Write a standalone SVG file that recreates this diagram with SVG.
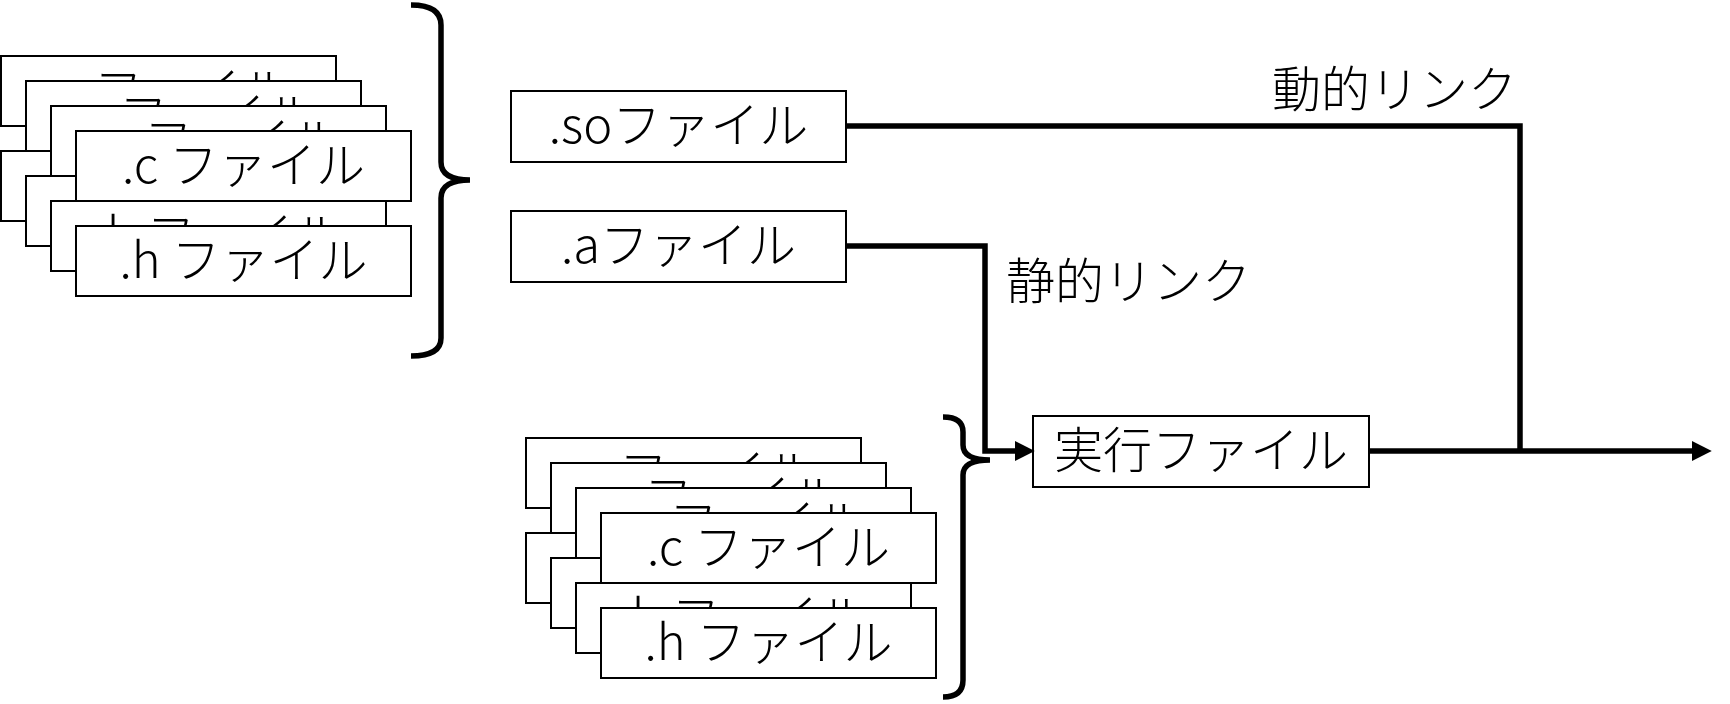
<svg xmlns="http://www.w3.org/2000/svg" width="1730" height="704" viewBox="0 0 1730 704">
<defs>
<style>
.box{fill:#fff;stroke:#000;stroke-width:2}
.t{font-family:"Noto Sans CJK JP","Noto Sans",sans-serif;font-size:49px;font-weight:300;fill:#000}
.c{text-anchor:middle}
.conn{fill:none;stroke:#000;stroke-width:5.5;stroke-linejoin:miter}
.br{fill:none;stroke:#000;stroke-width:5.5}
</style>
<marker id="arr" markerUnits="userSpaceOnUse" markerWidth="20" markerHeight="20" viewBox="0 0 18 18" refX="2" refY="9" orient="auto">
<path d="M0,0 L18,9 L0,18 z" fill="#000"/>
</marker>
<g id="cfile"><rect class="box" x="0" y="0" width="335" height="70"/><text class="t c" x="167.5" y="52">.c ファイル</text></g>
<g id="hfile"><rect class="box" x="0" y="0" width="335" height="70"/><text class="t c" x="167.5" y="52">.h ファイル</text></g>
</defs>
<rect width="1730" height="704" fill="#fff"/>

<g id="src-top">
<use href="#hfile" x="1" y="151"/>
<use href="#hfile" x="26" y="176"/>
<use href="#cfile" x="1" y="56"/>
<use href="#cfile" x="26" y="81"/>
<use href="#cfile" x="51" y="106"/>
<use href="#cfile" x="76" y="131"/>
<use href="#hfile" x="51" y="201"/>
<use href="#hfile" x="76" y="226"/>
</g>
<g id="brace-top">
<path class="br" d="M411,5 Q441,5 441,25 V162 Q441,180 470,180 Q441,180 441,198 V338 Q441,356 411,356"/>
</g>

<g id="src-bottom">
<use href="#hfile" x="526" y="533"/>
<use href="#hfile" x="551" y="558"/>
<use href="#cfile" x="526" y="438"/>
<use href="#cfile" x="551" y="463"/>
<use href="#cfile" x="576" y="488"/>
<use href="#cfile" x="601" y="513"/>
<use href="#hfile" x="576" y="583"/>
<use href="#hfile" x="601" y="608"/>
</g>
<g id="brace-bottom">
<path class="br" d="M943,417 Q963,417 963,432 V445 Q963,460 990,460 Q963,460 963,475 V680 Q963,697 943,697"/>
</g>

<g id="so">
<rect class="box" x="511" y="91" width="335" height="71"/>
<text class="t c" x="678.5" y="143">.soファイル</text>
</g>
<g id="a">
<rect class="box" x="511" y="211" width="335" height="71"/>
<text class="t c" x="678.5" y="263">.aファイル</text>
</g>
<g id="exe">
<rect class="box" x="1033" y="416" width="336" height="71"/>
<text class="t c" x="1201" y="468">実行ファイル</text>
</g>

<g id="connectors">
<path class="conn" d="M846,126 H1520 V451"/>
<path class="conn" d="M846,246 H985 V451 H1017" marker-end="url(#arr)"/>
<path class="conn" d="M1369,451 H1694" marker-end="url(#arr)"/>
</g>
<g id="labels">
<text class="t" x="1272" y="107">動的リンク</text>
<text class="t" x="1006" y="299">静的リンク</text>
</g>
</svg>
